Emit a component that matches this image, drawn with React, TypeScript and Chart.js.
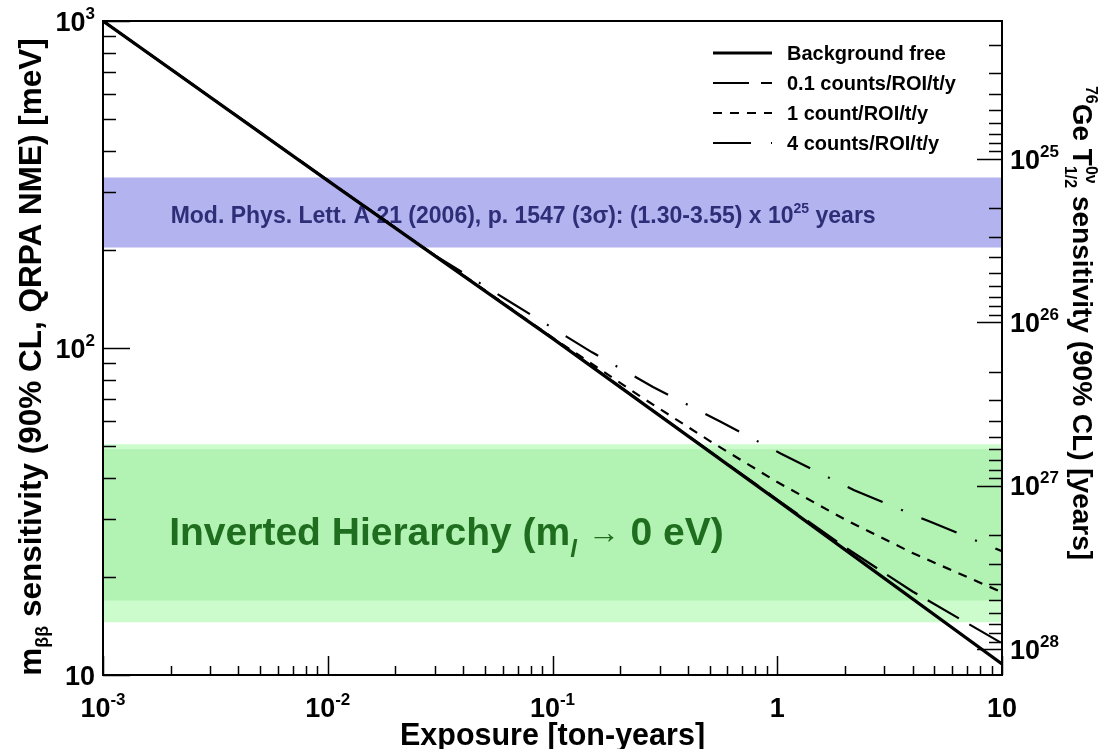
import React, { useEffect, useRef } from 'react';
import Chart from 'chart.js/auto';

// Sensitivity curves: exposure [ton-years] vs m_bb [meV]
const bgFreeExposure = [0.001, 0.01, 0.1, 1, 10];
const bgFreeMass = [1000, 325, 107, 34.2, 10.8];

const bg01Exposure = [0.001, 0.01, 0.1, 0.5, 1, 2, 4, 10];
const bg01Mass = [1000, 325, 107.2, 48.4, 34.4, 24.6, 18.0, 12.5];

const bg1Exposure = [0.001, 0.01, 0.1, 0.25, 0.5, 1, 2, 4, 10];
const bg1Mass = [1000, 325, 107.6, 70.6, 52.0, 38.9, 29.9, 23.6, 17.9];

const bg4Exposure = [0.001, 0.01, 0.03, 0.063, 0.15, 0.28, 0.56, 1.04, 2.2, 4.8, 10];
const bg4Mass = [1000, 326, 192, 140, 97, 76, 59.5, 47.5, 36.7, 29.4, 23.9];

const seriesLabels = ['Background free', '0.1 counts/ROI/t/y', '1 count/ROI/t/y', '4 counts/ROI/t/y'];

// horizontal bands, [upper, lower] in meV
const klapdorBand = [332, 203];
const ihOuterBand = [50.8, 14.5];
const ihInnerBand = [49.0, 16.9];

// axis ranges and tick labels
const exposureRange = [0.001, 10];
const massRange = [10, 1000];
const halfLifeRange = [1.432e24, 1.44e28];

const xTicks = [0.001, 0.01, 0.1, 1, 10];
const xTickLabels = [['10', '-3'], ['10', '-2'], ['10', '-1'], ['1', ''], ['10', '']];
const yTicks = [10, 100, 1000];
const yTickLabels = [['10', ''], ['10', '2'], ['10', '3']];
const tTicks = [1e25, 1e26, 1e27, 1e28];
const tTickLabels = [['10', '25'], ['10', '26'], ['10', '27'], ['10', '28']];

// annotation anchors in data coordinates [exposure, mass]
const klapdorTextAt = [0.002, 241];
const ihTextAt = [0.00197, 24.9];

const FONT = "'Liberation Sans', Arial, Helvetica, sans-serif";

type Seg = {
  t: string;
  size: number;
  dy?: number;
  style?: string;
  sup?: string;
  sub?: string;
  supDy?: number;
  subDy?: number;
};

const fontOf = (s: Seg) => `${s.style ?? 'bold'} ${s.size}px ${FONT}`;

// draws a run of text pieces with different sizes / offsets
const drawRich = (ctx: CanvasRenderingContext2D, segs: Seg[], x: number, y: number, align: 'left' | 'center' | 'right') => {
  const widths = segs.map(s => {
    ctx.font = fontOf(s);
    if (s.sup !== undefined || s.sub !== undefined) {
      return Math.max(ctx.measureText(s.sup ?? '').width, ctx.measureText(s.sub ?? '').width);
    }
    return ctx.measureText(s.t).width;
  });
  const total = widths.reduce((a, b) => a + b, 0);
  let cx = align === 'left' ? x : align === 'center' ? x - total / 2 : x - total;
  ctx.textAlign = 'left';
  ctx.textBaseline = 'alphabetic';
  segs.forEach((s, i) => {
    ctx.font = fontOf(s);
    if (s.sup !== undefined || s.sub !== undefined) {
      if (s.sup) ctx.fillText(s.sup, cx, y + (s.supDy ?? -12));
      if (s.sub) ctx.fillText(s.sub, cx, y + (s.subDy ?? 8));
    } else {
      ctx.fillText(s.t, cx, y + (s.dy ?? 0));
    }
    cx += widths[i];
  });
};

const logTicks = (min: number, max: number) => {
  const out: { v: number; major: boolean }[] = [];
  for (let e = Math.floor(Math.log10(min)); e <= Math.ceil(Math.log10(max)); e++) {
    for (let k = 1; k <= 9; k++) {
      const v = k * Math.pow(10, e);
      if (v >= min * 0.9999 && v <= max * 1.0001) out.push({ v, major: k === 1 });
    }
  }
  return out;
};

const BAND_TOP_INDEX = 4; // last band drawn before the curves

const framePlugin = {
  id: 'rootFrame',
  afterDatasetDraw(chart: any, args: any) {
    if (args.index !== BAND_TOP_INDEX) return;
    const { ctx, scales } = chart;
    const { x, y } = scales;
    ctx.save();
    ctx.fillStyle = '#2e2e78';
    drawRich(ctx, [
      { t: 'Mod. Phys. Lett. A 21 (2006), p. 1547 (3\u03c3): (1.30-3.55) x 10', size: 23 },
      { t: '25', size: 14, dy: -10 },
      { t: ' years', size: 23 },
    ], x.getPixelForValue(klapdorTextAt[0]), y.getPixelForValue(klapdorTextAt[1]), 'left');

    ctx.fillStyle = '#1f6e1f';
    drawRich(ctx, [
      { t: 'Inverted Hierarchy (m', size: 39 },
      { t: 'l', size: 24, dy: 12, style: 'italic bold' },
      { t: ' ', size: 39 },
      { t: '\u2192', size: 32, style: 'normal', dy: -2 },
      { t: ' 0 eV)', size: 39 },
    ], x.getPixelForValue(ihTextAt[0]), y.getPixelForValue(ihTextAt[1]), 'left');
    ctx.restore();
  },
  afterDraw(chart: any) {
    const { ctx, chartArea, scales } = chart;
    const { left, right, top, bottom } = chartArea;
    const { x, y, y2 } = scales;
    ctx.save();
    ctx.strokeStyle = '#000';
    ctx.fillStyle = '#000';
    ctx.setLineDash([]);

    // ticks
    ctx.lineWidth = 1.5;
    ctx.beginPath();
    logTicks(massRange[0], massRange[1]).forEach(t => {
      const py = Math.round(y.getPixelForValue(t.v)) + 0.5;
      ctx.moveTo(left, py);
      ctx.lineTo(left + (t.major ? 27 : 13), py);
    });
    logTicks(halfLifeRange[0], halfLifeRange[1]).forEach(t => {
      const py = Math.round(y2.getPixelForValue(t.v)) + 0.5;
      ctx.moveTo(right, py);
      ctx.lineTo(right - (t.major ? 25 : 13), py);
    });
    logTicks(exposureRange[0], exposureRange[1]).forEach(t => {
      const px = Math.round(x.getPixelForValue(t.v)) + 0.5;
      ctx.moveTo(px, bottom);
      ctx.lineTo(px, bottom - (t.major ? 19 : 9));
    });
    ctx.stroke();

    // frame
    ctx.lineWidth = 2;
    ctx.strokeRect(left, top, right - left, bottom - top);

    // tick labels
    yTicks.forEach((v, i) => {
      drawRich(ctx, [{ t: yTickLabels[i][0], size: 27 }, { t: yTickLabels[i][1], size: 17, dy: -12 }],
        95, y.getPixelForValue(v) + 9.7, 'right');
    });
    xTicks.forEach((v, i) => {
      drawRich(ctx, [{ t: xTickLabels[i][0], size: 27 }, { t: xTickLabels[i][1], size: 17, dy: -12 }],
        x.getPixelForValue(v), 717, 'center');
    });
    tTicks.forEach((v, i) => {
      drawRich(ctx, [{ t: tTickLabels[i][0], size: 27 }, { t: tTickLabels[i][1], size: 17, dy: -12 }],
        1010, y2.getPixelForValue(v) + 9.7, 'left');
    });

    // axis titles
    drawRich(ctx, [{ t: 'Exposure [ton-years]', size: 30.5 }], (left + right) / 2, 745, 'center');

    ctx.save();
    ctx.translate(41, 357);
    ctx.rotate(-Math.PI / 2);
    drawRich(ctx, [
      { t: 'm', size: 31.5 },
      { t: '\u03b2\u03b2', size: 18, dy: 7 },
      { t: ' sensitivity (90% CL, QRPA NME) [meV]', size: 31.5 },
    ], 0, 0, 'center');
    ctx.restore();

    ctx.save();
    ctx.translate(1073, 323);
    ctx.rotate(Math.PI / 2);
    drawRich(ctx, [
      { t: '76', size: 16, dy: -13 },
      { t: 'Ge T', size: 28 },
      { t: '', size: 16, sup: '0\u03bd', sub: '1/2', supDy: -13, subDy: 8 },
      { t: ' sensitivity (90% CL) [years]', size: 28 },
    ], 0, 0, 'center');
    ctx.restore();

    // legend
    const rows = [53, 83, 113, 143];
    seriesLabels.forEach((label, i) => {
      const ds = chart.data.datasets[i];
      ctx.lineWidth = ds.borderWidth;
      ctx.setLineDash(ds.borderDash ?? []);
      ctx.beginPath();
      ctx.moveTo(713, rows[i]);
      ctx.lineTo(772, rows[i]);
      ctx.stroke();
      ctx.setLineDash([]);
      ctx.font = `bold 20px ${FONT}`;
      ctx.textAlign = 'left';
      ctx.textBaseline = 'middle';
      ctx.fillText(label, 787, rows[i] + 1);
    });
    ctx.restore();
  },
};

const toPoints = (xs: number[], ys: number[]) => xs.map((v, i) => ({ x: v, y: ys[i] }));

const curve = (idx: number, xs: number[], ys: number[], width: number, dash: number[]) => ({
  label: seriesLabels[idx],
  data: toPoints(xs, ys),
  borderColor: '#000',
  borderWidth: width,
  borderDash: dash,
  borderCapStyle: 'butt' as const,
  pointRadius: 0,
  tension: 0,
  fill: false,
  order: 0,
});

const band = (range: number[], color: string) => ({
  label: '',
  data: toPoints(exposureRange, [range[0], range[0]]),
  borderColor: 'rgba(0,0,0,0)',
  borderWidth: 0,
  pointRadius: 0,
  backgroundColor: color,
  fill: { value: range[1] },
  order: 1,
});

const App: React.FC = () => {
  const canvasRef = useRef<HTMLCanvasElement>(null);

  useEffect(() => {
    if (!canvasRef.current) return;
    const chart = new Chart(canvasRef.current, {
      type: 'line',
      data: {
        datasets: [
          curve(0, bgFreeExposure, bgFreeMass, 3.2, []),
          curve(1, bg01Exposure, bg01Mass, 2.2, [36, 12]),
          curve(2, bg1Exposure, bg1Mass, 2.2, [9, 8]),
          curve(3, bg4Exposure, bg4Mass, 2.2, [38, 20, 2, 20]),
          band(klapdorBand, '#b3b3f0'),
          band(ihInnerBand, '#b2f2b2'),
          band(ihOuterBand, '#ccfccc'),
        ] as any,
      },
      options: {
        responsive: false,
        animation: false,
        devicePixelRatio: 1,
        events: [],
        layout: { padding: { left: 103, right: 104, top: 21, bottom: 74 } },
        plugins: {
          legend: { display: false },
          tooltip: { enabled: false },
        },
        scales: {
          x: { type: 'logarithmic', min: exposureRange[0], max: exposureRange[1], display: false },
          y: { type: 'logarithmic', min: massRange[0], max: massRange[1], display: false },
          y2: {
            type: 'logarithmic',
            position: 'right',
            reverse: true,
            min: halfLifeRange[0],
            max: halfLifeRange[1],
            display: false,
          },
        },
      },
      plugins: [framePlugin],
    });

    return () => {
      chart.destroy();
    };
  }, []);

  return (
    <div style={{ position: 'fixed', left: 0, top: 0, width: 1106, height: 749, background: '#fff' }}>
      <canvas ref={canvasRef} width={1106} height={749} style={{ display: 'block' }} />
    </div>
  );
};

export default App;
